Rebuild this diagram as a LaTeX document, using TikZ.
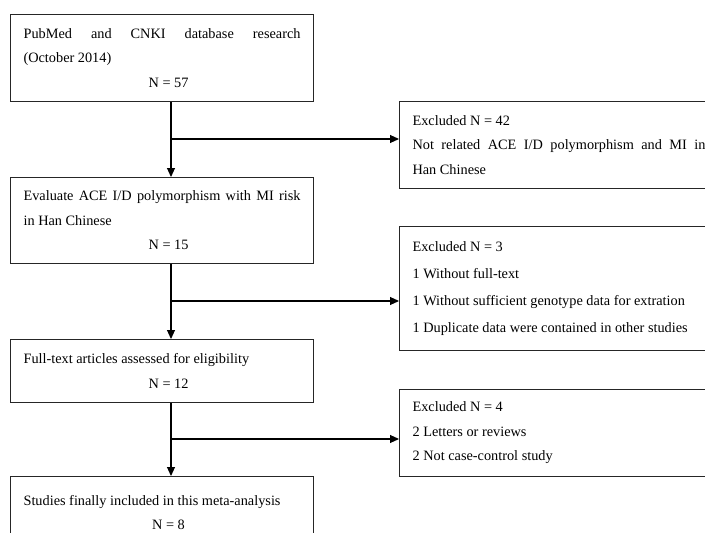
\documentclass[tikz,border=0pt]{standalone}
\usepackage{fontspec}
\setmainfont{Liberation Serif}
\usetikzlibrary{arrows.meta}
\tikzset{
  box/.style={draw=black!85, line width=1.1pt, anchor=north west, inner xsep=13pt, inner ysep=0pt,
    font=\fontsize{14.3}{24.5}\selectfont, text=black, align=justify},
  lbox/.style={box, text width=277pt},
  rbox/.style={box, text width=293pt},
  arr/.style={draw=black, line width=1.1pt, -{Triangle[length=9pt,width=8pt]}},
}
\newcommand{\nline}[1]{\par{\centering\hspace*{13pt}#1\par}}
\begin{document}
\begin{tikzpicture}[x=1pt,y=-1pt]
\useasboundingbox (0,0) rectangle (705,533);
\clip (0,0) rectangle (705,533);
\node[lbox, minimum height=87pt] (b1) at (10,14)
  {\hyphenpenalty=10000 PubMed and CNKI database research\linebreak (October 2014)\nline{N = 57}};
\node[lbox, minimum height=86pt] (b2) at (10,177)
  {\hyphenpenalty=10000 Evaluate ACE I/D polymorphism with MI risk\linebreak in Han Chinese\nline{N = 15}};
\node[lbox, minimum height=63pt] (b3) at (10,339)
  {Full-text articles assessed for eligibility\nline{N = 12}};
\node[lbox, minimum height=72pt] (b4) at (10,476)
  {Studies finally included in this meta-analysis\nline{N = 8}};
\node[rbox, minimum height=87pt] (r1) at (399,101)
  {\hyphenpenalty=10000 Excluded N = 42\\Not related ACE I/D polymorphism and MI in\linebreak Han Chinese};
\node[rbox, minimum height=124pt, font=\fontsize{14.3}{27}\selectfont] (r2) at (399,226)
  {Excluded N = 3\\1 Without full-text\\1 Without sufficient genotype data for extration\\1 Duplicate data were contained in other studies};
\node[rbox, minimum height=87pt] (r3) at (399,389)
  {Excluded N = 4\\2 Letters or reviews\\2 Not case-control study};
\coordinate (j1) at (171,139);
\coordinate (j2) at (171,301);
\coordinate (j3) at (171,439);
\draw[arr] (b1.south -| j1) -- (b2.north -| j1);
\draw[arr] (b2.south -| j2) -- (b3.north -| j2);
\draw[arr] (b3.south -| j3) -- (b4.north -| j3);
\draw[arr] (j1) -- (j1 -| r1.west);
\draw[arr] (j2) -- (j2 -| r2.west);
\draw[arr] (j3) -- (j3 -| r3.west);
\end{tikzpicture}
\end{document}
